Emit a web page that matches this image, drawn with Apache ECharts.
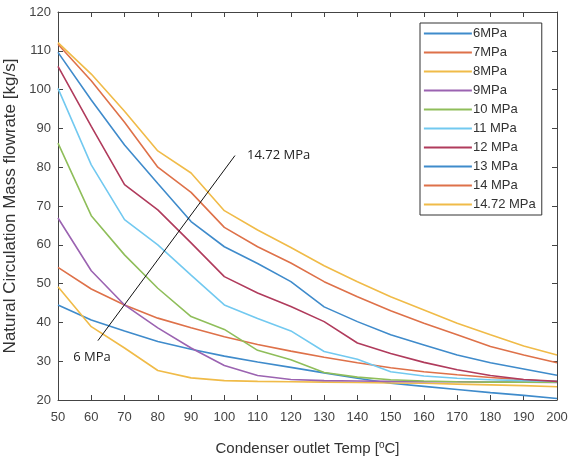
<!DOCTYPE html>
<html>
<head>
<meta charset="utf-8">
<script src="https://cdn.jsdelivr.net/npm/echarts@6/dist/echarts.min.js"></script>
<style>html,body{margin:0;padding:0;background:#fff}#c{width:570px;height:457px}</style>
</head>
<body>
<div id="c"></div>
<script>
const temps = [50,60,70,80,90,100,110,120,130,140,150,160,170,180,190,200];
const p6    = [44.5,40.6,37.8,35.1,33.1,31.3,29.8,28.4,27.0,25.6,24.3,23.5,22.7,21.9,21.2,20.4];
const p7    = [54.2,48.6,44.5,41.1,38.6,36.3,34.3,32.6,31.0,29.6,28.3,27.3,26.5,25.8,25.2,24.7];
const p8    = [49.2,38.9,33.4,27.6,25.7,25.0,24.8,24.7,24.6,24.5,24.4,24.3,24.1,23.9,23.7,23.4];
const p9    = [66.9,53.3,44.5,38.6,33.4,28.9,26.3,25.3,25.0,24.9,24.8,24.7,24.7,24.6,24.6,24.5];
const p10   = [86.2,67.5,57.4,48.8,41.5,38.2,32.8,30.4,27.1,25.9,25.2,24.9,24.7,24.6,24.6,24.6];
const p11   = [100.3,80.6,66.5,60.0,52.2,44.5,41.0,37.8,32.5,30.5,27.3,26.2,25.6,25.2,25.0,24.8];
const p12   = [106.0,90.5,75.5,69.0,60.5,51.8,47.6,44.1,40.2,34.7,32.0,29.7,27.8,26.3,25.3,24.8];
const p13   = [109.6,97.3,85.7,75.8,66.0,59.5,55.2,50.5,44.0,40.2,36.8,34.2,31.6,29.6,28.0,26.4];
const p14   = [111.7,102.3,91.6,80.0,73.5,64.5,59.5,55.3,50.5,46.6,43.0,39.8,36.8,33.8,31.6,29.6];
const p1472 = [112.1,104.0,94.4,84.2,78.5,68.8,63.8,59.3,54.6,50.5,46.6,43.2,39.8,36.8,33.9,31.6];
const names = ['6MPa','7MPa','8MPa','9MPa','10 MPa','11 MPa','12 MPa','13 MPa','14 MPa','14.72 MPa'];
const values = [p6,p7,p8,p9,p10,p11,p12,p13,p14,p1472];
const colors = ['#3F8BCB','#DE7149','#F0BB48','#9B63B1','#8FBE5A','#72C9F0','#B03B5C','#3F8BCB','#DE7149','#F0BB48'];
const xTicks = {min:50,max:200,interval:10};
const yTicks = {min:20,max:120,interval:10};
const arrowFrom = [62, 35.3], arrowTo = [103.2, 83.0];
const lowLabel = {text:'6 MPa', at:[60.2, 31.1]};
const highLabel = {text:'14.72 MPa', at:[106.8, 83.1]};

const font = '"Liberation Sans", Arial, sans-serif';
const series = names.map((n,i)=>({
  name:n, type:'line', symbol:'none', showSymbol:false,
  data: temps.map((t,j)=>[t, values[i][j]]),
  lineStyle:{width:1.6,color:colors[i]}, itemStyle:{color:colors[i]},
  z: 2, silent:true, animation:false
}));
series.push({
  type:'line', data:[], symbol:'none', animation:false, silent:true,
  markLine:{
    silent:true, symbol:['none','arrow'], symbolSize:[0,12],
    lineStyle:{color:'#111',width:1,type:'solid'}, label:{show:false},
    data:[[{coord:arrowFrom},{coord:arrowTo}]], animation:false
  },
  markPoint:{
    silent:true, symbol:'circle', symbolSize:0, animation:false,
    data:[
      {coord:lowLabel.at, value:lowLabel.text, label:{show:true,position:'inside',formatter:lowLabel.text,color:'#222',fontSize:13,fontFamily:'"Open Sans", sans-serif'}},
      {coord:highLabel.at, value:highLabel.text, label:{show:true,position:'right',distance:0,formatter:highLabel.text,color:'#222',fontSize:13,fontFamily:'"Open Sans", sans-serif'}}
    ]
  }
});

const chart = echarts.init(document.getElementById('c'));
const axLine = {show:true, lineStyle:{color:'#444',width:1}};
chart.setOption({
  animation:false,
  backgroundColor:'#fff',
  grid:{left:58,right:13,top:12,bottom:57,show:false,containLabel:false,outerBoundsMode:'none'},
  legend:{
    show:true, orient:'vertical', left:420, top:23,
    data:names, itemWidth:48, itemHeight:14, itemGap:6,
    borderColor:'#333', borderWidth:1, padding:[4,6,4,3],
    itemStyle:{opacity:0},
    lineStyle:{width:1.8},
    textStyle:{fontSize:13,color:'#333',fontFamily:font,padding:[0,0,0,-4]},
    backgroundColor:'#fff', selectedMode:false
  },
  xAxis:[{
    type:'value', min:xTicks.min, max:xTicks.max, interval:xTicks.interval,
    name:'Condenser outlet Temp [{sup|o}C]', nameLocation:'middle', nameGap:40,
    nameTextStyle:{fontSize:15,color:'#333',fontFamily:font,rich:{sup:{fontSize:10,verticalAlign:'top',color:'#333',fontFamily:font,padding:[0,0,7,0]}}},
    axisLine:axLine, axisTick:{show:true,inside:true,length:5,lineStyle:{color:'#444'}},
    axisLabel:{fontSize:13,color:'#444',fontFamily:font,margin:11},
    splitLine:{show:false}
  },{
    type:'value', position:'top', min:xTicks.min, max:xTicks.max, interval:xTicks.interval,
    axisLine:axLine, axisTick:{show:true,inside:true,length:5,lineStyle:{color:'#444'}},
    axisLabel:{show:false}, splitLine:{show:false}
  }],
  yAxis:[{
    type:'value', min:yTicks.min, max:yTicks.max, interval:yTicks.interval,
    name:'Natural Circulation Mass flowrate [kg/s]', nameLocation:'middle', nameGap:29,
    nameTextStyle:{fontSize:17,color:'#333',fontFamily:font},
    axisLine:axLine, axisTick:{show:true,inside:true,length:5,lineStyle:{color:'#444'}},
    axisLabel:{fontSize:13,color:'#444',fontFamily:font,margin:7},
    splitLine:{show:false}
  },{
    type:'value', position:'right', min:yTicks.min, max:yTicks.max, interval:yTicks.interval,
    axisLine:axLine, axisTick:{show:true,inside:true,length:5,lineStyle:{color:'#444'}},
    axisLabel:{show:false}, splitLine:{show:false}
  }],
  series: series
});
</script>
</body>
</html>
